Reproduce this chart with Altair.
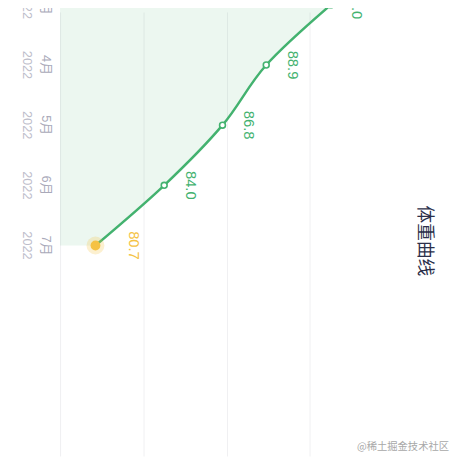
import altair as alt
import pandas as pd

# ---- data ----
MONTHS = [3, 4, 5, 6, 7]
MONTH_LABELS = ["3月", "4月", "5月", "6月", "7月"]
YEARS = ["2022", "2022", "2022", "2022", "2022"]
WEIGHTS = [92.0, 88.9, 86.8, 84.0, 80.7]
GRID_VALUES = [79, 83, 87, 91]
BASELINE = 79
TITLE = "体重曲线"
WATERMARK = "@稀土掘金技术社区"

df = pd.DataFrame({"m": MONTHS, "month": MONTH_LABELS, "year": YEARS, "w": WEIGHTS})
LAST = MONTHS[-1]

GREEN = "#43b26f"
YELLOW = "#f5c243"
FONT = "'Liberation Sans', 'Noto Sans CJK SC', sans-serif"
CJK = "'Noto Sans CJK SC', sans-serif"

xs = alt.Scale(domain=[76.5, 97.82], nice=False, zero=False)
ys = alt.Scale(domain=[3.119, 10.499], nice=False, zero=False, reverse=True)

X = alt.X("w:Q", scale=xs, title=None,
          axis=alt.Axis(values=GRID_VALUES, grid=True, gridColor="#f0f0f2", gridWidth=1,
                        labels=False, ticks=False, domain=False))
Y = alt.Y("m:Q", scale=ys, axis=None)

base = alt.Chart(df)

area = base.mark_area(orient="horizontal", interpolate="cardinal", color=GREEN, opacity=0.1).encode(
    x=X, x2=alt.datum(BASELINE), y=Y)

line = base.mark_line(interpolate="cardinal", color=GREEN, strokeWidth=2.5).encode(
    x=X, y=Y, order="m:Q")

pts = base.transform_filter(f"datum.m != {LAST}").mark_point(
    shape="circle", filled=True, fill="#ffffff", stroke=GREEN, strokeWidth=1.6, size=36, opacity=1
).encode(x=X, y=Y)

halo = base.transform_filter(f"datum.m == {LAST}").mark_point(
    shape="circle", filled=True, color=YELLOW, size=330, opacity=0.25).encode(x=X, y=Y)

dot = base.transform_filter(f"datum.m == {LAST}").mark_point(
    shape="circle", filled=True, color=YELLOW, size=100, opacity=1).encode(x=X, y=Y)

lab = base.transform_filter(f"datum.m != {LAST}").mark_text(
    angle=90, align="center", baseline="middle", dy=-27, fontSize=15, font=FONT, color=GREEN
).encode(x=X, y=Y, text=alt.Text("w:Q", format=".1f"))

lab_last = base.transform_filter(f"datum.m == {LAST}").mark_text(
    angle=90, align="center", baseline="middle", dy=-39, fontSize=15, font=FONT, color=YELLOW
).encode(x=X, y=Y, text=alt.Text("w:Q", format=".1f"))

mlab = base.mark_text(angle=90, align="center", baseline="middle", fontSize=13, font=FONT,
                      color="#a9a9b9").encode(x=alt.value(39), y=Y, text="month:N")
ylab = base.mark_text(angle=90, align="center", baseline="middle", fontSize=13, font=FONT,
                      color="#bdbdca").encode(x=alt.value(19.5), y=Y, text="year:N")

title = alt.Chart(pd.DataFrame({"t": [TITLE]})).mark_text(
    angle=90, align="center", baseline="middle", fontSize=18, font=CJK, fontWeight="normal", color="#2c2f4a"
).encode(x=alt.value(423), y=alt.value(233), text="t:N")

wm = alt.Chart(pd.DataFrame({"t": [WATERMARK]})).mark_text(
    align="right", baseline="middle", fontSize=10.5, font=CJK, color="#a8a8a8"
).encode(x=alt.value(449), y=alt.value(443), text="t:N")

chart = alt.layer(area, line, pts, halo, dot, lab, lab_last, mlab, ylab, title, wm).properties(
    width=452, height=452, autosize=alt.AutoSizeParams(type="none"), padding=0
).configure_view(strokeWidth=0)

chart.save("out.html", embed_options={"renderer": "svg", "actions": False})
